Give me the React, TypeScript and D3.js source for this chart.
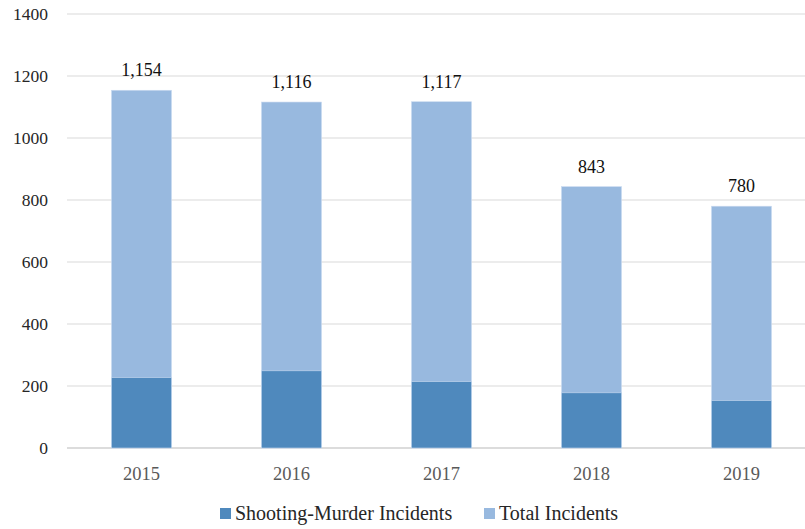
import React, { useEffect, useRef } from 'react';
import * as d3 from 'd3';

const years = ['2015', '2016', '2017', '2018', '2019'];
const shootingMurder = [227, 249, 214, 178, 153];
const totalIncidents = [1154, 1116, 1117, 843, 780];
const yTicks = [0, 200, 400, 600, 800, 1000, 1200, 1400];

const width = 805;
const height = 529;

const App: React.FC = () => {
  const svgRef = useRef<SVGSVGElement>(null);

  useEffect(() => {
    document.body.style.margin = '0';
    if (!svgRef.current) return;
    const svg = d3.select(svgRef.current);
    svg.selectAll('*').remove();

    const font = '"Liberation Serif", "DejaVu Serif", serif';

    const x = d3.scaleBand()
      .domain(years)
      .range([66.5, 816.5])
      .paddingInner(0.6)
      .paddingOuter(0.3);

    const y = d3.scaleLinear().domain([0, 1400]).range([448, 14]);

    // Gridlines
    svg.append('g')
      .selectAll('line')
      .data(yTicks)
      .enter().append('line')
      .attr('x1', 67)
      .attr('x2', width)
      .attr('y1', d => y(d))
      .attr('y2', d => y(d))
      .attr('stroke', d => d === 0 ? '#d0d0d0' : '#d9d9d9')
      .attr('stroke-width', d => d === 0 ? 1.5 : 1);

    // Y labels
    svg.append('g')
      .selectAll('text')
      .data(yTicks)
      .enter().append('text')
      .attr('x', 48)
      .attr('y', d => y(d) + 6)
      .attr('text-anchor', 'end')
      .style('font-family', font)
      .style('font-size', '17.5px')
      .style('fill', '#262626')
      .text(d => String(d));

    // Total bars (behind)
    svg.append('g')
      .selectAll('rect')
      .data(totalIncidents)
      .enter().append('rect')
      .attr('x', (d, i) => x(years[i]) || 0)
      .attr('width', x.bandwidth())
      .attr('y', d => y(d))
      .attr('height', d => y(0) - y(d))
      .attr('fill', '#98b9df')
      .attr('stroke', '#c9daf0')
      .attr('stroke-width', 0.6);

    // Shooting-murder bars (front)
    svg.append('g')
      .selectAll('rect')
      .data(shootingMurder)
      .enter().append('rect')
      .attr('x', (d, i) => x(years[i]) || 0)
      .attr('width', x.bandwidth())
      .attr('y', d => y(d))
      .attr('height', d => y(0) - y(d))
      .attr('fill', '#4f89bd')
      .attr('stroke', '#c9daf0')
      .attr('stroke-width', 0.6);

    // Value labels
    svg.append('g')
      .selectAll('text')
      .data(totalIncidents)
      .enter().append('text')
      .attr('x', (d, i) => (x(years[i]) || 0) + x.bandwidth() / 2)
      .attr('y', d => y(d) - 14)
      .attr('text-anchor', 'middle')
      .style('font-family', font)
      .style('font-size', '18px')
      .style('fill', '#111')
      .text(d => d3.format(',')(d));

    // X labels
    svg.append('g')
      .selectAll('text')
      .data(years)
      .enter().append('text')
      .attr('x', d => (x(d) || 0) + x.bandwidth() / 2)
      .attr('y', 480)
      .attr('text-anchor', 'middle')
      .style('font-family', font)
      .style('font-size', '18.5px')
      .style('fill', '#595959')
      .text(d => d);

    // Legend
    const legend = [
      { label: 'Shooting-Murder Incidents', color: '#4f89bd', x: 220 },
      { label: 'Total Incidents', color: '#98b9df', x: 484 },
    ];
    const lg = svg.append('g');
    legend.forEach(item => {
      lg.append('rect')
        .attr('x', item.x)
        .attr('y', 508)
        .attr('width', 11)
        .attr('height', 11)
        .attr('fill', item.color);
      lg.append('text')
        .attr('x', item.x + 15)
        .attr('y', 520)
        .style('font-family', font)
        .style('font-size', '20px')
        .style('fill', '#262626')
        .text(item.label);
    });
  }, []);

  return (
    <svg ref={svgRef} width={width} height={height} style={{ display: 'block', background: '#fff' }}></svg>
  );
};

export default App;
